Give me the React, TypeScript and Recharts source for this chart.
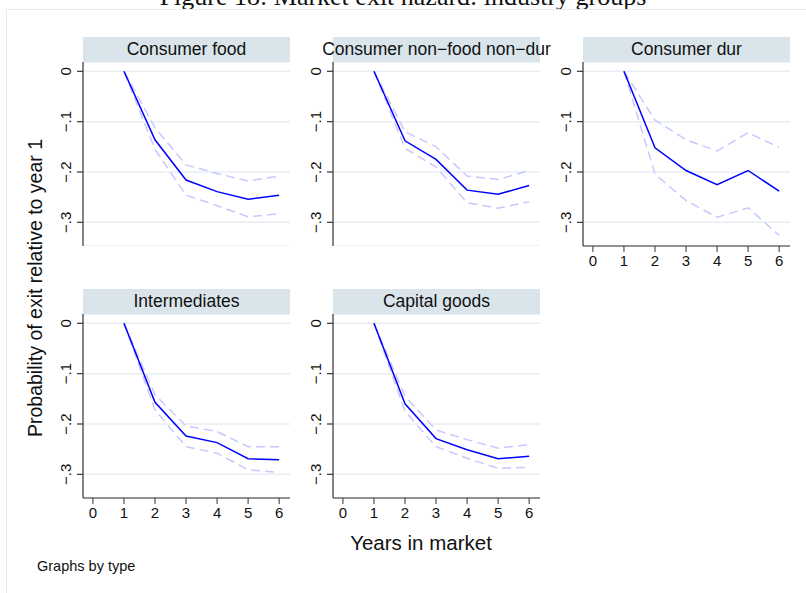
import { LineChart, Line, XAxis, YAxis, CartesianGrid } from "recharts";

// estimates and 95% bands, years 1..6
const years = [1, 2, 3, 4, 5, 6];

const foodEst = [0, -0.136, -0.216, -0.239, -0.254, -0.246];
const foodHi = [0, -0.112, -0.186, -0.203, -0.218, -0.208];
const foodLo = [0, -0.155, -0.246, -0.267, -0.289, -0.283];

const nonDurEst = [0, -0.138, -0.175, -0.236, -0.244, -0.227];
const nonDurHi = [0, -0.12, -0.15, -0.208, -0.215, -0.197];
const nonDurLo = [0, -0.153, -0.19, -0.261, -0.272, -0.259];

const durEst = [0, -0.152, -0.197, -0.225, -0.197, -0.238];
const durHi = [0, -0.097, -0.136, -0.158, -0.122, -0.151];
const durLo = [0, -0.204, -0.257, -0.29, -0.271, -0.326];

const interEst = [0, -0.157, -0.224, -0.237, -0.269, -0.271];
const interHi = [0, -0.142, -0.204, -0.215, -0.245, -0.245];
const interLo = [0, -0.172, -0.245, -0.258, -0.291, -0.296];

const capEst = [0, -0.16, -0.229, -0.251, -0.269, -0.264];
const capHi = [0, -0.145, -0.212, -0.231, -0.248, -0.241];
const capLo = [0, -0.175, -0.245, -0.268, -0.288, -0.286];

const xTicks = [0, 1, 2, 3, 4, 5, 6];
const yTicks = [-0.3, -0.2, -0.1, 0];
const yTickLabels = ["\u2212.3", "\u2212.2", "\u2212.1", "0"];

const FONT = "'Liberation Sans', Arial, Helvetica, sans-serif";
const Y_W = 40;
const PLOT_W = 207;
const PLOT_H = 184;
const X_H = 30;

const buildRows = (est: number[], lo: number[], hi: number[]) =>
  years.map((year, i) => ({ year, est: est[i], lo: lo[i], hi: hi[i] }));

const YTick = (props: any) => {
  const { y, payload } = props;
  const idx = yTicks.indexOf(payload.value);
  const label = idx >= 0 ? yTickLabels[idx] : String(payload.value);
  const lx = Y_W - 17;
  return (
    <text
      x={lx}
      y={y}
      transform={`rotate(-90, ${lx}, ${y})`}
      textAnchor="middle"
      dominantBaseline="central"
      fontSize={15}
      fontFamily={FONT}
      fill="#111"
    >
      {label}
    </text>
  );
};

interface PanelProps {
  title: string;
  left: number;
  top: number;
  est: number[];
  lo: number[];
  hi: number[];
  showX: boolean;
}

const Panel = ({ title, left, top, est, lo, hi, showX }: PanelProps) => {
  const data = buildRows(est, lo, hi);
  return (
    <>
      <div
        style={{
          position: "absolute",
          left,
          top: top - 25,
          width: PLOT_W,
          height: 25,
          background: "#d9e5eb",
          display: "flex",
          alignItems: "center",
          justifyContent: "center",
          fontFamily: FONT,
          fontSize: 17.5,
          color: "#111",
          whiteSpace: "nowrap",
          overflow: "visible",
        }}
      >
        {title}
      </div>
      <div style={{ position: "absolute", left: left - Y_W, top }}>
        <LineChart
          width={Y_W + PLOT_W}
          height={PLOT_H + (showX ? X_H : 0)}
          data={data}
          margin={{ top: 0, right: 0, bottom: 0, left: 0 }}
        >
          <CartesianGrid horizontal vertical={false} stroke="#e6eef2" strokeWidth={1.5} />
          <XAxis
            dataKey="year"
            type="number"
            domain={[-0.32, 6.35]}
            ticks={xTicks}
            allowDataOverflow
            hide={!showX}
            height={X_H}
            tickSize={6}
            tickMargin={3}
            stroke="#333"
            tick={{ fontSize: 15, fontFamily: FONT, fill: "#111" }}
          />
          <YAxis
            type="number"
            domain={[-0.347, 0.0185]}
            ticks={yTicks}
            allowDataOverflow
            width={Y_W}
            tickSize={6}
            stroke="#333"
            strokeWidth={1.2}
            tick={<YTick />}
          />
          <Line dataKey="hi" stroke="#c8c8ff" strokeWidth={1.5} strokeDasharray="9 5" dot={false} isAnimationActive={false} />
          <Line dataKey="lo" stroke="#c8c8ff" strokeWidth={1.5} strokeDasharray="9 5" dot={false} isAnimationActive={false} />
          <Line dataKey="est" stroke="#0000ff" strokeWidth={1.5} dot={false} isAnimationActive={false} />
        </LineChart>
      </div>
    </>
  );
};

const App = () => {
  return (
    <div
      style={{
        position: "absolute",
        left: 0,
        top: 0,
        width: 806,
        height: 593,
        overflow: "hidden",
        background: "#fff",
        fontFamily: FONT,
      }}
    >
      <div
        style={{
          position: "absolute",
          left: 0,
          width: 806,
          top: -18,
          textAlign: "center",
          fontFamily: "'Liberation Serif', 'DejaVu Serif', serif",
          fontSize: 26,
          lineHeight: "30px",
          color: "#111",
        }}
      >
        Figure 18: Market exit hazard: industry groups
      </div>
      <div
        style={{
          position: "absolute",
          left: 6,
          top: 9,
          width: 820,
          height: 620,
          border: "1px solid #e6edf1",
        }}
      />
      <Panel title="Consumer food" left={83} top={62} est={foodEst} lo={foodLo} hi={foodHi} showX={false} />
      <Panel title="Consumer non−food non−dur" left={333} top={62} est={nonDurEst} lo={nonDurLo} hi={nonDurHi} showX={false} />
      <Panel title="Consumer dur" left={583} top={62} est={durEst} lo={durLo} hi={durHi} showX />
      <Panel title="Intermediates" left={83} top={314} est={interEst} lo={interLo} hi={interHi} showX />
      <Panel title="Capital goods" left={333} top={314} est={capEst} lo={capLo} hi={capHi} showX />
      <div
        style={{
          position: "absolute",
          left: 35,
          top: 288,
          transform: "translate(-50%, -50%) rotate(-90deg)",
          whiteSpace: "nowrap",
          fontSize: 19.5,
          color: "#111",
        }}
      >
        Probability of exit relative to year 1
      </div>
      <div
        style={{
          position: "absolute",
          left: 421,
          top: 543,
          transform: "translate(-50%, -50%)",
          whiteSpace: "nowrap",
          fontSize: 20.5,
          color: "#111",
        }}
      >
        Years in market
      </div>
      <div
        style={{
          position: "absolute",
          left: 37,
          top: 566,
          transform: "translateY(-50%)",
          whiteSpace: "nowrap",
          fontSize: 14.5,
          color: "#111",
        }}
      >
        Graphs by type
      </div>
    </div>
  );
};

export default App;
